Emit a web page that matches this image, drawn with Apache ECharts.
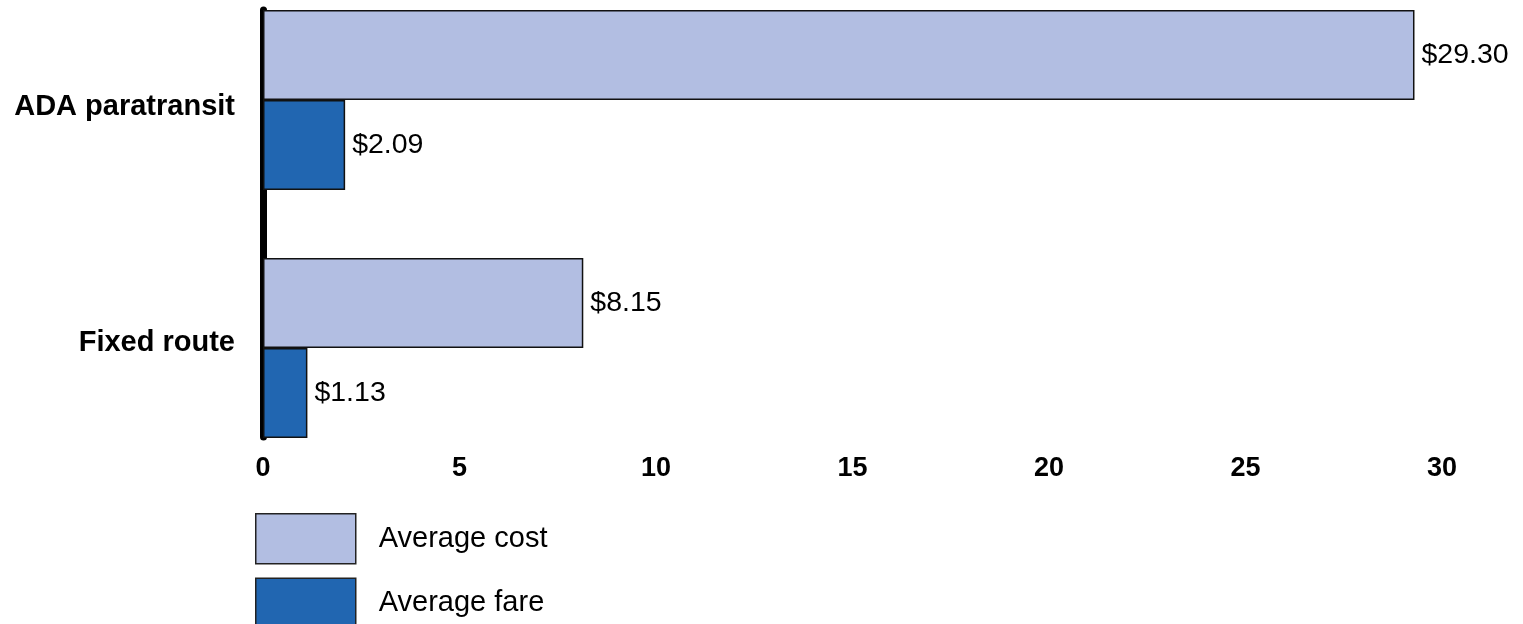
<!DOCTYPE html>
<html>
<head>
<meta charset="utf-8">
<script src="https://cdn.jsdelivr.net/npm/echarts@6/dist/echarts.min.js"></script>
<style>html,body{margin:0;padding:0;background:#fff}#c{width:1523px;height:624px}</style>
</head>
<body>
<div id="c"></div>
<script>
const categories = ['ADA paratransit', 'Fixed route'];
const averageCost = [29.30, 8.15];
const averageFare = [2.09, 1.13];
const xTicks = [0, 5, 10, 15, 20, 25, 30];

const chart = echarts.init(document.getElementById('c'));
const font = 'Liberation Sans, Arial, sans-serif';
const valueLabel = {
  show: true, position: 'right', distance: 7, color: '#000', fontSize: 28.5, fontFamily: font,
  formatter: p => '$' + p.value.toFixed(2)
};
chart.setOption({
  animation: false,
  backgroundColor: '#fff',
  grid: [
    {left: 263, right: 81, top: 100, bottom: 276},
    {left: 263, right: 81, top: 10, bottom: 187}
  ],
  xAxis: [
    {gridIndex: 0, type: 'value', min: xTicks[0], max: xTicks[xTicks.length-1], interval: 5, show: false},
    {gridIndex: 1, type: 'value', min: xTicks[0], max: xTicks[xTicks.length-1], interval: 5,
     axisLine: {show: false}, axisTick: {show: false}, splitLine: {show: false},
     axisLabel: {fontSize: 27, fontWeight: 'bold', color: '#000', fontFamily: font, margin: 18}}
  ],
  yAxis: [
    {gridIndex: 0, type: 'category', data: categories, inverse: true, boundaryGap: false,
     axisLine: {show: false}, axisTick: {show: false}, splitLine: {show: false},
     axisLabel: {color: '#000', margin: 28,
       formatter: (v, i) => i === 0 ? '{a|' + v + '}' : '{b|' + v + '}',
       rich: {
         a: {fontSize: 29, fontWeight: 'bold', color: '#000', fontFamily: font, padding: [14, 0, 0, 0]},
         b: {fontSize: 29, fontWeight: 'bold', color: '#000', fontFamily: font, padding: [0, 0, 10, 0]}
       }}},
    {gridIndex: 1, type: 'category', data: [''], axisTick: {show: false}, axisLabel: {show: false},
     axisLine: {show: true, lineStyle: {color: '#000', width: 7}}, splitLine: {show: false}}
  ],
  legend: {
    orient: 'vertical', left: 255, top: 513, height: 200, padding: 0, itemWidth: 100, itemHeight: 50, itemGap: 13,
    icon: 'rect',
    itemStyle: {borderColor: '#222', borderWidth: 1.5},
    textStyle: {fontSize: 29, color: '#000', fontFamily: font, padding: [0, 0, 0, 18]},
    data: ['Average cost', 'Average fare']
  },
  series: [
    {name: 'Average cost', type: 'bar', xAxisIndex: 0, yAxisIndex: 0, data: averageCost,
     barWidth: 90, barGap: '0%',
     itemStyle: {color: '#b2bee2', borderColor: '#111', borderWidth: 1.5}, label: valueLabel},
    {name: 'Average fare', type: 'bar', xAxisIndex: 0, yAxisIndex: 0, data: averageFare,
     barWidth: 90, barGap: '0%',
     itemStyle: {color: '#2166b1', borderColor: '#111', borderWidth: 1.5}, label: valueLabel}
  ]
});
</script>
</body>
</html>
